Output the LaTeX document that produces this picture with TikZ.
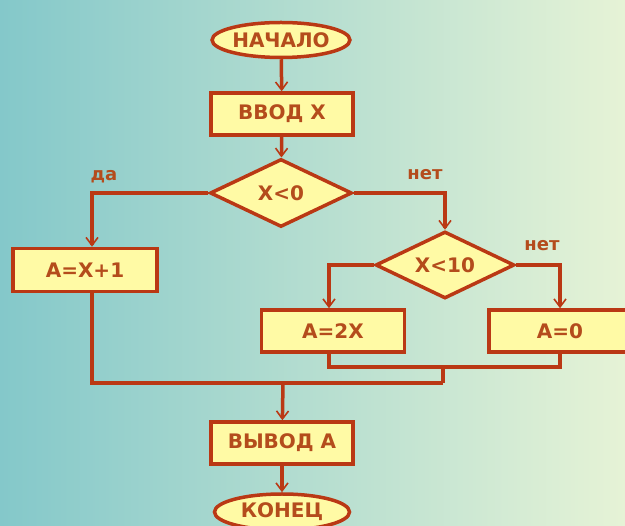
\documentclass[tikz,border=0pt]{standalone}
\usepackage{fontspec}
\setmainfont{DejaVu Sans}
\usetikzlibrary{shapes.geometric,arrows.meta}
\definecolor{bgL}{RGB}{132,200,202}
\definecolor{bgR}{RGB}{230,243,214}
\definecolor{ln}{RGB}{186,56,20}
\definecolor{tx}{RGB}{180,76,28}
\definecolor{fl}{RGB}{255,250,165}
\begin{document}
\begin{tikzpicture}[x=1pt,y=-1pt,
  txt/.style={text=tx, font=\fontsize{20}{20}\selectfont\bfseries},
  box/.style={txt, draw=ln, fill=fl, line width=3.5pt, minimum width=142pt, minimum height=42pt, inner sep=0pt},
  term/.style={txt, ellipse, draw=ln, fill=fl, line width=3.5pt, minimum width=136pt, minimum height=35pt, inner sep=0pt},
  dec/.style={txt, diamond, draw=ln, fill=fl, line width=3.5pt, minimum width=142pt, minimum height=68pt, inner sep=0pt, aspect=2},
  flow/.style={draw=ln, line width=3.5pt},
  arr/.style={flow, -{Straight Barb[length=8pt,width=12pt,line width=1.6pt]}},
  lab/.style={text=tx, font=\fontsize{18}{18}\selectfont\bfseries}
]
\useasboundingbox (0,0) rectangle (625,526);
\clip (0,0) rectangle (625,526);
\shade[left color=bgL, right color=bgR] (0,0) rectangle (625,526);

\node[term] (start) at (281,40) {НАЧАЛО};
\node[box] (inp) at (282,114) {ВВОД X};
\node[dec] (d1) at (281,193) {X<0};
\node[box, minimum width=144pt, minimum height=43pt] (a1) at (85,270) {A=X+1};
\node[dec, minimum width=139pt, minimum height=67pt] (d2) at (445,265) {X<10};
\node[box, minimum width=143pt] (a2) at (333,331) {A=2X};
\node[box] (a3) at (560,331) {A=0};
\node[box] (out) at (282,443) {ВЫВОД А};
\node[term, minimum width=135pt, minimum height=36pt] (end) at (282,512) {КОНЕЦ};

\coordinate (m1) at (443,367);
\coordinate (m2) at (443,383);
\coordinate (m3) at (283,383);

\draw[arr] (start) -- (inp);
\draw[arr] (inp) -- (d1);
\draw[arr] (d1.west) -| ([xshift=7pt]a1.north);
\draw[arr] (d1.east) -| (d2.north);
\draw[arr] (d2.west) -| ([xshift=-4pt]a2.north);
\draw[arr] (d2.east) -| (a3.north);
\draw[flow] ([xshift=-4pt]a2.south) |- (m1) -| (a3.south);
\draw[flow] (m1) -- (m2);
\draw[flow] ([xshift=7pt]a1.south) |- (m2);
\draw[arr] (m3) -- (out);
\draw[arr] (out) -- (end);

\node[lab] (l1) at (104,177) {да};
\node[lab] (l2) at (425,175) {нет};
\node[lab] (l3) at (542,246) {нет};
\end{tikzpicture}
\end{document}
